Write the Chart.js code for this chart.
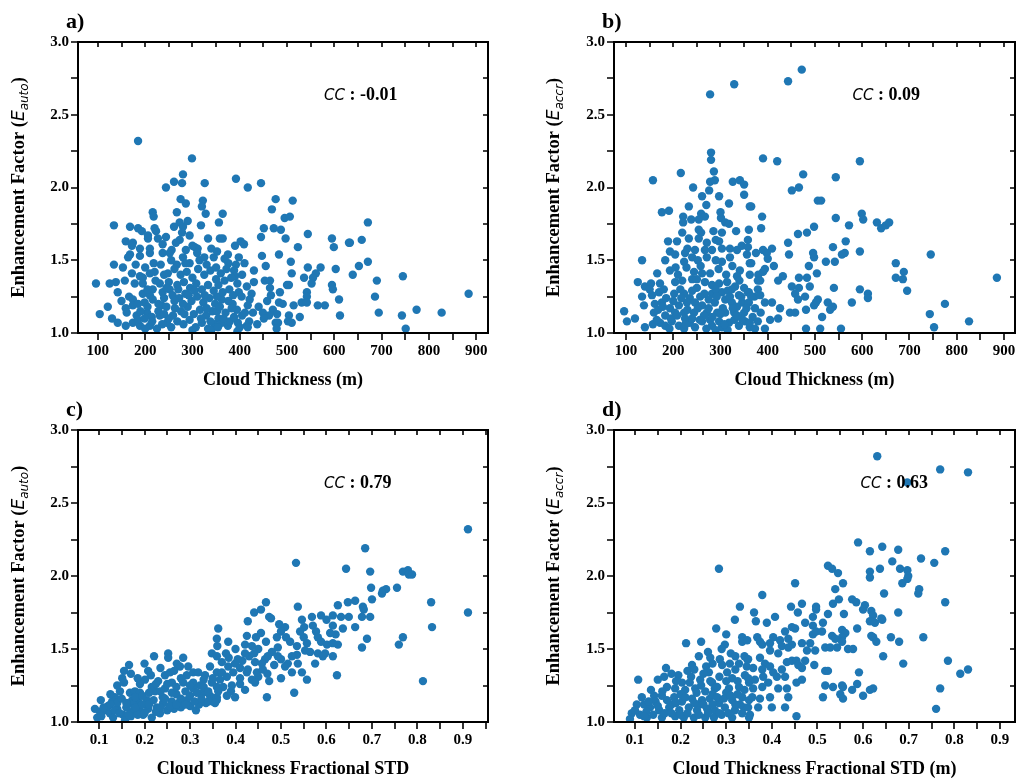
<!DOCTYPE html>
<html>
<head>
<meta charset="utf-8">
<script src="https://cdn.jsdelivr.net/npm/chart.js@4.4.1/dist/chart.umd.min.js"></script>
<style>
  html, body { margin: 0; padding: 0; background: #fff; }
  #wrap { position: relative; width: 1026px; height: 784px; }
  .panel { position: absolute; width: 513px; height: 392px; }
</style>
</head>
<body>
<div id="wrap">
  <div class="panel" style="left:0;top:0"><canvas id="pa" width="513" height="392"></canvas></div>
  <div class="panel" style="left:513px;top:0"><canvas id="pb" width="513" height="392"></canvas></div>
  <div class="panel" style="left:0;top:392px"><canvas id="pc" width="513" height="392"></canvas></div>
  <div class="panel" style="left:513px;top:392px"><canvas id="pd" width="513" height="392"></canvas></div>
</div>
<script>
// tick labels
const thicknessTicks = [100, 200, 300, 400, 500, 600, 700, 800, 900];
const stdTicks = [0.1, 0.2, 0.3, 0.4, 0.5, 0.6, 0.7, 0.8, 0.9];
const factorTicks = [1.0, 1.5, 2.0, 2.5, 3.0];

// correlation coefficients printed in each panel
const ccValues = ['-0.01', '0.09', '0.79', '0.63'];
const panelLetters = ['a)', 'b)', 'c)', 'd)'];

// [cloud thickness (m), E_auto]
const thicknessEauto = [
  [185,2.32],[299,2.20],[280,2.09],[261,2.04],[278,2.03],[244,2.00],[326,2.03],[275,1.92],[286,1.89],[322,1.91],
  [320,1.87],[328,1.82],[216,1.83],[218,1.80],[267,1.83],[273,1.76],[290,1.77],[134,1.74],[168,1.73],[185,1.72],
  [193,1.70],[220,1.72],[223,1.70],[261,1.73],[280,1.73],[318,1.74],[356,1.76],[278,1.69],[294,1.67],[206,1.67],
  [206,1.65],[227,1.65],[244,1.66],[159,1.63],[174,1.62],[172,1.60],[273,1.64],[333,1.65],[189,1.58],[210,1.58],
  [237,1.61],[256,1.57],[286,1.57],[305,1.59],[311,1.58],[168,1.54],[164,1.52],[189,1.53],[210,1.55],[237,1.55],
  [252,1.55],[280,1.52],[134,1.47],[153,1.45],[218,1.48],[233,1.47],[267,1.47],[294,1.48],[172,1.41],[189,1.39],
  [195,1.38],[210,1.41],[220,1.42],[248,1.41],[138,1.35],[157,1.36],[178,1.34],[195,1.34],[231,1.34],[96,1.34],
  [125,1.34],[142,1.28],[216,1.30],[237,1.28],[252,1.30],[195,1.27],[210,1.26],[166,1.25],[174,1.23],[121,1.18],
  [159,1.17],[174,1.19],[199,1.21],[216,1.23],[235,1.19],[104,1.13],[161,1.14],[182,1.12],[204,1.14],[214,1.11],
  [231,1.12],[142,1.07],[159,1.05],[174,1.07],[189,1.05],[210,1.05],[225,1.03],[246,1.07],[185,1.09],[199,1.10],
  [262,1.44],[275,1.40],[288,1.42],[300,1.38],[312,1.44],[325,1.40],[338,1.43],[350,1.37],[268,1.33],[282,1.35],
  [295,1.31],[308,1.34],[320,1.30],[333,1.33],[345,1.29],[258,1.26],[272,1.24],[285,1.27],[298,1.22],[310,1.25],
  [323,1.21],[336,1.24],[348,1.20],[263,1.17],[276,1.15],[290,1.18],[303,1.13],[316,1.16],[329,1.12],[342,1.15],
  [355,1.10],[268,1.08],[281,1.06],[294,1.09],[307,1.04],[320,1.07],[333,1.03],[346,1.06],[259,1.12],[245,1.18],
  [250,1.35],[240,1.24],[228,1.15],[205,1.18],[190,1.15],[250,1.10],[236,1.06],[300,1.02],[340,1.02],[315,1.50],
  [330,1.47],[345,1.52],[285,1.48],[240,1.40],[200,1.45],[180,1.47],[150,1.22],[130,1.10],[265,1.62],[300,1.60],
  [340,1.58],
  [200,1.03],[215,1.08],[228,1.20],[240,1.13],[255,1.04],[262,1.22],[270,1.30],[283,1.13],[292,1.26],[305,1.29],
  [318,1.10],[326,1.26],[338,1.08],[352,1.15],[362,1.23],[375,1.05],[385,1.20],[398,1.28],[405,1.12],[425,1.27],
  [437,1.06],[440,1.18],[458,1.22],[470,1.16],[485,1.28],[205,1.30],[222,1.36],[255,1.50],[310,1.55],[325,1.52],
  [376,1.48],[410,1.48],[430,1.43],[455,1.46],[420,1.08],[395,1.01],[330,1.17],[280,1.20],[245,1.31],[185,1.20],
  [392,2.06],[417,2.00],[445,2.03],[476,1.92],[512,1.91],[468,1.85],[495,1.79],[506,1.80],[451,1.72],[472,1.72],
  [487,1.71],[544,1.68],[595,1.65],[599,1.59],[631,1.62],[445,1.66],[497,1.65],[523,1.59],[364,1.82],[358,1.65],
  [364,1.65],[390,1.60],[402,1.63],[409,1.61],[352,1.56],[375,1.54],[398,1.52],[368,1.51],[447,1.53],[483,1.54],
  [508,1.49],[392,1.47],[388,1.43],[390,1.39],[544,1.45],[571,1.45],[561,1.41],[555,1.38],[552,1.34],[536,1.38],
  [603,1.44],[639,1.40],[510,1.41],[453,1.36],[464,1.36],[430,1.35],[500,1.33],[504,1.33],[464,1.31],[595,1.33],
  [597,1.30],[415,1.32],[542,1.28],[542,1.25],[466,1.26],[404,1.25],[421,1.23],[610,1.23],[483,1.21],[491,1.20],
  [514,1.19],[531,1.21],[542,1.21],[565,1.19],[580,1.19],[417,1.19],[394,1.16],[411,1.14],[428,1.14],[449,1.14],
  [462,1.12],[479,1.13],[504,1.12],[527,1.11],[612,1.12],[451,1.10],[502,1.08],[476,1.07],[481,1.07],[510,1.07],
  [362,1.07],[379,1.08],[396,1.07],[415,1.05],[417,1.04],[400,1.04],[478,1.03],
  [350,1.45],[360,1.41],[372,1.44],[382,1.38],[355,1.33],[368,1.36],[378,1.30],[352,1.25],[364,1.28],[376,1.22],
  [386,1.26],[358,1.18],[370,1.14],[383,1.17],[354,1.04],[366,1.10],[388,1.11],[395,1.34],[405,1.40],
  [633,1.62],[671,1.76],[658,1.64],[671,1.49],[652,1.46],[690,1.36],[745,1.39],[686,1.25],[694,1.14],[743,1.12],
  [774,1.16],[827,1.14],[751,1.03],[884,1.27]
];

// [cloud thickness (m), E_accr]
const thicknessEaccr = [
  [329,2.71],[278,2.64],[280,2.24],[280,2.19],[286,2.11],[216,2.10],[157,2.05],[278,2.04],[288,2.05],[276,1.98],
  [326,2.04],[341,2.05],[350,2.02],[350,1.95],[242,2.00],[261,1.94],[297,1.94],[318,1.89],[362,1.87],[233,1.87],
  [176,1.83],[191,1.84],[221,1.80],[259,1.82],[267,1.80],[238,1.78],[254,1.78],[301,1.79],[310,1.76],[318,1.75],
  [221,1.76],[254,1.71],[259,1.69],[219,1.69],[303,1.69],[333,1.70],[360,1.71],[233,1.65],[254,1.65],[189,1.63],
  [208,1.63],[271,1.62],[290,1.64],[297,1.63],[358,1.64],[246,1.57],[267,1.57],[282,1.57],[303,1.58],[320,1.58],
  [335,1.57],[356,1.54],[193,1.56],[204,1.54],[183,1.50],[223,1.49],[240,1.52],[252,1.50],[271,1.52],[303,1.49],
  [320,1.52],[134,1.50],[362,1.48],[193,1.43],[166,1.41],[244,1.42],[261,1.41],[278,1.41],[341,1.43],[335,1.39],
  [362,1.40],[125,1.35],[140,1.32],[153,1.34],[172,1.34],[204,1.35],[219,1.36],[240,1.37],[267,1.35],[282,1.33],
  [297,1.34],[314,1.35],[331,1.32],[350,1.31],[134,1.25],[155,1.26],[170,1.28],[202,1.27],[223,1.27],[235,1.24],
  [257,1.25],[282,1.27],[303,1.28],[324,1.30],[339,1.26],[360,1.28],[138,1.19],[161,1.20],[176,1.21],[193,1.17],
  [212,1.19],[229,1.21],[246,1.21],[261,1.19],[288,1.21],[310,1.23],[324,1.21],[346,1.21],[360,1.21],[96,1.15],
  [159,1.14],[183,1.12],[204,1.14],[223,1.14],[244,1.14],[271,1.14],[293,1.14],[310,1.14],[329,1.14],[350,1.14],
  [102,1.08],[119,1.10],[140,1.04],[157,1.06],[172,1.07],[183,1.05],[197,1.08],[212,1.05],[223,1.03],[235,1.07],
  [246,1.04],[261,1.08],[278,1.09],[282,1.05],[297,1.08],[303,1.04],[318,1.07],[329,1.09],[339,1.05],[352,1.08],
  [362,1.04],
  [215,1.30],[230,1.16],[250,1.31],[265,1.12],[275,1.23],[290,1.30],[305,1.17],[315,1.29],[335,1.18],[345,1.10],
  [195,1.10],[185,1.24],[168,1.16],[150,1.30],[225,1.10],[270,1.03],[290,1.02],[315,1.02],[240,1.29],[296,1.44],
  [312,1.40],[228,1.45],[210,1.40],[258,1.46],[325,1.46],[345,1.60],[230,1.58],[285,1.70],[270,1.88],[300,1.83],
  [180,1.30],
  [165,1.09],[178,1.18],[192,1.03],[200,1.22],[208,1.12],[217,1.24],[226,1.06],[240,1.10],[252,1.17],[256,1.09],
  [266,1.27],[275,1.17],[283,1.11],[292,1.25],[300,1.13],[308,1.06],[320,1.25],[326,1.17],[335,1.12],[344,1.25],
  [355,1.17],[368,1.11],[372,1.25],[385,1.14],[340,1.36],[380,1.40],[250,1.37],[225,1.55],[205,1.45],[290,1.50],
  [472,2.81],[443,2.73],[390,2.20],[420,2.18],[595,2.18],[475,2.09],[544,2.07],[451,1.98],[466,2.00],[506,1.91],
  [513,1.91],[365,1.87],[599,1.82],[602,1.78],[544,1.79],[388,1.80],[386,1.72],[498,1.73],[483,1.69],[464,1.68],
  [572,1.74],[443,1.62],[409,1.58],[390,1.57],[398,1.55],[375,1.55],[358,1.59],[445,1.54],[496,1.55],[498,1.52],
  [538,1.59],[565,1.63],[563,1.55],[557,1.54],[595,1.56],[400,1.51],[413,1.46],[365,1.48],[523,1.49],[542,1.49],
  [487,1.46],[390,1.42],[394,1.44],[432,1.39],[422,1.36],[379,1.36],[384,1.36],[466,1.38],[483,1.38],[504,1.41],
  [451,1.32],[466,1.31],[489,1.32],[540,1.31],[458,1.27],[358,1.28],[379,1.30],[365,1.25],[384,1.26],[595,1.30],
  [612,1.27],[612,1.24],[464,1.23],[479,1.25],[506,1.23],[502,1.21],[527,1.21],[538,1.18],[578,1.21],[394,1.21],
  [409,1.21],[426,1.17],[373,1.17],[447,1.14],[458,1.14],[481,1.16],[498,1.19],[532,1.16],[515,1.11],[422,1.10],
  [405,1.09],[379,1.08],[362,1.07],[394,1.03],[373,1.03],[481,1.03],[511,1.03],[555,1.03],
  [631,1.76],[640,1.72],[650,1.74],[657,1.76],[671,1.48],[671,1.38],[686,1.37],[688,1.42],[695,1.29],[745,1.54],
  [743,1.13],[775,1.20],[752,1.04],[826,1.08],[885,1.38]
];

// [cloud thickness fractional STD, E_auto]
const stdEauto = [
  [0.362,1.64],[0.359,1.57],[0.348,1.47],[0.252,1.47],[0.252,1.44],[0.221,1.45],[0.285,1.44],[0.271,1.40],[0.278,1.38],[0.166,1.39],
  [0.170,1.33],[0.151,1.30],[0.155,1.27],[0.208,1.35],[0.214,1.32],[0.201,1.29],[0.245,1.32],[0.256,1.34],[0.260,1.27],[0.245,1.23],
  [0.223,1.21],[0.216,1.24],[0.296,1.38],[0.293,1.32],[0.307,1.34],[0.318,1.34],[0.333,1.32],[0.344,1.38],[0.359,1.34],[0.307,1.27],
  [0.322,1.25],[0.348,1.27],[0.359,1.24],[0.307,1.23],[0.329,1.20],[0.344,1.18],[0.359,1.17],[0.313,1.08],[0.293,1.15],[0.278,1.14],
  [0.260,1.14],[0.241,1.13],[0.227,1.10],[0.208,1.09],[0.190,1.08],[0.173,1.07],[0.153,1.05],[0.197,1.05],[0.216,1.03],[0.234,1.06],
  [0.168,1.20],[0.179,1.21],[0.190,1.20],[0.173,1.15],[0.186,1.14],[0.205,1.15],[0.175,1.12],[0.146,1.21],[0.135,1.17],[0.129,1.14],
  [0.140,1.09],[0.104,1.15],[0.091,1.09],[0.102,1.07],[0.113,1.08],[0.124,1.06],[0.096,1.03],[0.131,1.03],[0.157,1.01],
  [0.170,1.04],[0.185,1.05],[0.200,1.06],[0.225,1.07],[0.250,1.08],[0.265,1.09],[0.280,1.10],[0.300,1.11],[0.320,1.12],[0.335,1.13],
  [0.350,1.14],[0.240,1.17],[0.270,1.19],[0.290,1.21],[0.190,1.26],[0.230,1.28],[0.280,1.30],[0.330,1.29],[0.120,1.11],[0.140,1.13],
  [0.160,1.10],[0.105,1.04],
  [0.110,1.10],[0.125,1.12],[0.135,1.08],[0.145,1.06],[0.150,1.16],[0.160,1.13],[0.165,1.05],[0.180,1.10],[0.180,1.17],[0.195,1.12],
  [0.195,1.18],[0.210,1.12],[0.210,1.20],[0.220,1.15],[0.225,1.26],[0.235,1.10],[0.235,1.21],[0.245,1.16],[0.250,1.26],[0.255,1.11],
  [0.260,1.20],[0.270,1.12],[0.270,1.24],[0.280,1.16],[0.285,1.27],[0.290,1.12],[0.300,1.18],[0.300,1.25],[0.310,1.14],[0.315,1.20],
  [0.325,1.16],[0.330,1.24],[0.340,1.14],[0.340,1.21],[0.350,1.30],[0.265,1.35],[0.235,1.37],[0.200,1.40],[0.185,1.30],[0.140,1.25],
  [0.125,1.19],[0.155,1.35],
  [0.370,1.34],[0.385,1.44],[0.400,1.50],[0.415,1.42],[0.430,1.45],[0.450,1.50],[0.465,1.43],[0.480,1.48],[0.500,1.43],[0.360,1.52],
  [0.390,1.21],[0.410,1.26],[0.450,1.31],[0.470,1.33],[0.500,1.30],[0.520,1.55],[0.550,1.58],[0.570,1.66],[0.600,1.70],[0.620,1.60],
  [0.533,2.09],[0.643,2.05],[0.467,1.82],[0.441,1.75],[0.456,1.77],[0.427,1.69],[0.474,1.72],[0.478,1.71],[0.537,1.79],[0.384,1.55],
  [0.425,1.59],[0.445,1.58],[0.456,1.61],[0.496,1.67],[0.509,1.65],[0.511,1.58],[0.500,1.62],[0.491,1.58],[0.546,1.70],[0.551,1.65],
  [0.542,1.62],[0.568,1.72],[0.588,1.73],[0.577,1.62],[0.581,1.58],[0.588,1.55],[0.557,1.54],[0.535,1.52],[0.553,1.49],[0.564,1.48],
  [0.601,1.53],[0.614,1.54],[0.625,1.53],[0.608,1.61],[0.614,1.66],[0.625,1.80],[0.614,1.73],[0.632,1.72],[0.647,1.82],[0.649,1.72],
  [0.636,1.64],[0.581,1.47],[0.597,1.47],[0.592,1.45],[0.614,1.45],[0.575,1.40],[0.623,1.32],[0.529,1.20],[0.469,1.17],[0.474,1.28],
  [0.546,1.34],[0.557,1.29],[0.537,1.40],[0.535,1.46],[0.524,1.45],[0.524,1.34],[0.515,1.40],[0.509,1.38],[0.493,1.51],[0.493,1.45],
  [0.485,1.39],[0.471,1.45],[0.458,1.40],[0.443,1.41],[0.427,1.36],[0.421,1.53],[0.421,1.47],[0.436,1.52],[0.441,1.47],[0.467,1.55],
  [0.379,1.47],[0.405,1.43],[0.399,1.40],[0.384,1.38],[0.370,1.41],[0.359,1.45],[0.410,1.37],[0.395,1.34],[0.425,1.34],[0.447,1.34],
  [0.460,1.36],[0.381,1.31],[0.410,1.30],[0.436,1.29],[0.366,1.29],[0.392,1.25],[0.421,1.22],[0.443,1.27],[0.373,1.24],[0.362,1.21],
  [0.381,1.18],[0.399,1.17],[0.359,1.15],[0.355,1.13],
  [0.911,2.32],[0.911,1.75],[0.830,1.82],[0.832,1.65],[0.812,1.28],[0.685,2.19],[0.696,2.03],[0.768,2.03],[0.779,2.04],[0.781,2.01],
  [0.788,2.01],[0.698,1.92],[0.724,1.90],[0.731,1.91],[0.722,1.88],[0.755,1.92],[0.700,1.84],[0.663,1.83],[0.680,1.79],[0.682,1.77],
  [0.678,1.72],[0.696,1.72],[0.663,1.65],[0.689,1.57],[0.678,1.51],[0.768,1.58],[0.759,1.53]
];

// [cloud thickness fractional STD, E_accr]
const stdEaccr = [
  [0.284,2.05],[0.330,1.79],[0.319,1.70],[0.278,1.64],[0.335,1.58],[0.335,1.55],[0.297,1.53],[0.245,1.55],[0.212,1.54],[0.260,1.48],
  [0.107,1.29],[0.150,1.29],[0.168,1.37],[0.164,1.31],[0.225,1.39],[0.256,1.38],[0.262,1.34],[0.286,1.43],[0.291,1.39],[0.308,1.40],
  [0.328,1.40],[0.346,1.43],[0.302,1.34],[0.313,1.30],[0.341,1.32],[0.203,1.27],[0.223,1.31],[0.243,1.29],[0.269,1.27],[0.188,1.23],
  [0.170,1.24],[0.210,1.22],[0.232,1.23],[0.254,1.21],[0.275,1.23],[0.306,1.23],[0.328,1.24],[0.350,1.27],[0.142,1.18],[0.159,1.18],
  [0.186,1.17],[0.203,1.14],[0.225,1.16],[0.247,1.15],[0.264,1.16],[0.284,1.13],[0.313,1.15],[0.335,1.17],[0.350,1.15],[0.104,1.12],
  [0.120,1.12],[0.133,1.10],[0.153,1.08],[0.175,1.10],[0.197,1.08],[0.218,1.10],[0.236,1.08],[0.258,1.09],[0.275,1.08],[0.297,1.10],
  [0.319,1.08],[0.339,1.10],[0.093,1.06],[0.111,1.05],[0.089,1.02],[0.126,1.03],[0.159,1.03],[0.188,1.04],[0.207,1.03],[0.229,1.03],
  [0.254,1.03],[0.273,1.03],[0.313,1.03],[0.350,1.03],
  [0.215,1.35],[0.235,1.20],[0.250,1.33],[0.270,1.19],[0.285,1.31],[0.300,1.20],[0.320,1.36],[0.330,1.12],[0.195,1.32],[0.180,1.12],
  [0.145,1.14],[0.125,1.07],[0.165,1.06],[0.240,1.12],[0.290,1.05],[0.340,1.45],[0.310,1.47],[0.265,1.44],[0.200,1.19],[0.115,1.17],
  [0.135,1.22],[0.280,1.17],[0.325,1.19],
  [0.100,1.08],[0.120,1.04],[0.130,1.14],[0.140,1.05],[0.150,1.11],[0.160,1.21],[0.170,1.15],[0.180,1.06],[0.190,1.13],[0.190,1.28],
  [0.200,1.05],[0.210,1.17],[0.215,1.06],[0.220,1.27],[0.230,1.13],[0.240,1.05],[0.245,1.25],[0.250,1.12],[0.260,1.06],[0.265,1.28],
  [0.270,1.12],[0.280,1.24],[0.285,1.06],[0.295,1.16],[0.300,1.28],[0.305,1.06],[0.310,1.18],[0.320,1.12],[0.325,1.28],[0.335,1.06],
  [0.340,1.22],[0.345,1.38],[0.320,1.45],[0.290,1.50],[0.270,1.40],[0.240,1.45],[0.230,1.36],[0.180,1.33],[0.300,1.60],
  [0.631,2.82],[0.589,2.23],[0.615,2.17],[0.642,2.20],[0.637,2.05],[0.615,2.03],[0.615,1.99],[0.523,2.07],[0.532,2.05],[0.545,2.02],
  [0.556,1.95],[0.539,1.91],[0.451,1.95],[0.379,1.87],[0.547,1.84],[0.534,1.81],[0.576,1.84],[0.585,1.82],[0.604,1.80],[0.600,1.77],
  [0.618,1.76],[0.622,1.73],[0.642,1.70],[0.615,1.69],[0.626,1.68],[0.646,1.88],[0.442,1.79],[0.466,1.81],[0.457,1.75],[0.497,1.79],
  [0.497,1.77],[0.490,1.72],[0.512,1.68],[0.523,1.74],[0.558,1.74],[0.361,1.75],[0.365,1.69],[0.389,1.68],[0.407,1.72],[0.473,1.68],
  [0.444,1.65],[0.451,1.64],[0.490,1.66],[0.490,1.60],[0.497,1.62],[0.510,1.62],[0.429,1.62],[0.532,1.59],[0.554,1.63],[0.561,1.61],
  [0.554,1.58],[0.587,1.64],[0.539,1.57],[0.554,1.55],[0.543,1.51],[0.567,1.50],[0.578,1.50],[0.618,1.59],[0.622,1.58],[0.629,1.55],
  [0.644,1.45],[0.368,1.58],[0.374,1.55],[0.379,1.53],[0.396,1.54],[0.403,1.58],[0.418,1.56],[0.422,1.52],[0.436,1.57],[0.444,1.53],
  [0.436,1.51],[0.466,1.54],[0.477,1.49],[0.484,1.54],[0.495,1.49],[0.517,1.51],[0.528,1.51],[0.346,1.56],[0.396,1.49],[0.414,1.47],
  [0.348,1.43],[0.374,1.44],[0.385,1.40],[0.359,1.37],[0.379,1.36],[0.396,1.38],[0.403,1.34],[0.422,1.36],[0.433,1.41],[0.444,1.42],
  [0.454,1.42],[0.458,1.39],[0.473,1.42],[0.466,1.37],[0.493,1.39],[0.517,1.35],[0.523,1.35],[0.591,1.34],[0.429,1.31],[0.454,1.27],
  [0.466,1.29],[0.517,1.25],[0.534,1.24],[0.554,1.25],[0.556,1.24],[0.587,1.26],[0.622,1.23],[0.615,1.22],[0.576,1.22],[0.550,1.19],
  [0.556,1.16],[0.600,1.18],[0.512,1.17],[0.348,1.30],[0.363,1.29],[0.381,1.31],[0.392,1.27],[0.411,1.31],[0.359,1.23],[0.379,1.24],
  [0.414,1.23],[0.433,1.23],[0.436,1.17],[0.357,1.17],[0.374,1.16],[0.396,1.17],[0.400,1.10],[0.429,1.10],[0.348,1.10],[0.370,1.10],
  [0.352,1.05],[0.454,1.04],
  [0.769,2.73],[0.830,2.71],[0.697,2.64],[0.677,2.18],[0.780,2.17],[0.664,2.10],[0.727,2.12],[0.756,2.09],[0.681,2.05],[0.697,2.04],
  [0.699,2.00],[0.697,1.98],[0.686,1.95],[0.723,1.91],[0.721,1.88],[0.780,1.82],[0.677,1.75],[0.640,1.71],[0.661,1.58],[0.679,1.55],
  [0.732,1.58],[0.688,1.40],[0.786,1.42],[0.813,1.33],[0.830,1.36],[0.769,1.23],[0.760,1.09]
];

const SERIF = '"Liberation Serif", "Times New Roman", serif';
const SANS = '"DejaVu Sans", sans-serif';
const DOT = '#1f77b4';

// in-between tick positions (half a label step)
function minorTicks(labels, min, max) {
  const step = (labels[1] - labels[0]) / 2;
  const out = [];
  for (let v = labels[0] - step * 4; v <= max + 1e-9; v += step) {
    if (v >= min - 1e-9) out.push(+v.toFixed(4));
  }
  return out;
}

// frame, tick marks, y title with subscript, CC note and panel letter
const panelDecor = {
  id: 'panelDecor',
  afterDraw(chart, args, o) {
    const { ctx, chartArea: a, scales: { x, y } } = chart;
    ctx.save();
    ctx.strokeStyle = '#000';
    ctx.lineWidth = 1.6;
    ctx.beginPath();
    for (const v of o.xMinor) {
      const px = Math.round(x.getPixelForValue(v));
      ctx.moveTo(px, a.bottom); ctx.lineTo(px, a.bottom + 7);
      ctx.moveTo(px, a.top); ctx.lineTo(px, a.top + 5);
    }
    for (const v of o.yMinor) {
      const py = Math.round(y.getPixelForValue(v));
      ctx.moveTo(a.left, py); ctx.lineTo(a.left - 7, py);
      ctx.moveTo(a.right, py); ctx.lineTo(a.right - 5, py);
    }
    ctx.stroke();
    ctx.lineWidth = 2;
    ctx.strokeRect(a.left, a.top, a.right - a.left, a.bottom - a.top);

    // y axis title, rotated, with italic E and subscript
    const parts = [
      { t: 'Enhancement Factor (', f: `bold 18.5px ${SERIF}`, dy: 0 },
      { t: 'E', f: `oblique 17px ${SANS}`, dy: 0 },
      { t: o.sub, f: `oblique 12px ${SANS}`, dy: 4 },
      { t: ')', f: `bold 18.5px ${SERIF}`, dy: 0 }
    ];
    let total = 0;
    for (const p of parts) { ctx.font = p.f; p.w = ctx.measureText(p.t).width; total += p.w; }
    ctx.save();
    ctx.translate(o.yTitleX, (a.top + a.bottom) / 2);
    ctx.rotate(-Math.PI / 2);
    ctx.fillStyle = '#000';
    ctx.textBaseline = 'alphabetic';
    let cx = -total / 2;
    for (const p of parts) {
      ctx.font = p.f;
      ctx.fillText(p.t, cx, 6 + p.dy);
      cx += p.w;
    }
    ctx.restore();

    // correlation note
    const nx = a.left + o.ccX * (a.right - a.left);
    const ny = a.top + 0.2 * (a.bottom - a.top);
    ctx.fillStyle = '#000';
    ctx.textBaseline = 'alphabetic';
    ctx.font = `oblique 15px ${SANS}`;
    ctx.fillText('CC', nx, ny);
    const w = ctx.measureText('CC').width;
    ctx.font = `bold 18px ${SERIF}`;
    ctx.fillText(' : ' + o.cc, nx + w, ny);

    // panel letter
    ctx.font = `bold 22px ${SERIF}`;
    ctx.fillText(o.letter, a.left - 12, a.top - 14);
    ctx.restore();
  }
};

function makePanel(id, cfg) {
  const tickFont = { family: SERIF, size: 15, weight: 'bold' };
  return new Chart(document.getElementById(id), {
    type: 'scatter',
    data: {
      datasets: [{
        data: cfg.points.map(p => ({ x: p[0], y: p[1] })),
        backgroundColor: DOT,
        borderWidth: 0,
        pointRadius: 4.2,
        pointHoverRadius: 4.2,
        clip: 0
      }]
    },
    options: {
      responsive: false,
      animation: false,
      events: [],
      layout: { padding: { top: cfg.top, right: cfg.right, left: 0, bottom: 0 } },
      plugins: {
        legend: { display: false },
        tooltip: { enabled: false },
        panelDecor: {
          xMinor: minorTicks(cfg.xTicks, cfg.xMin, cfg.xMax),
          yMinor: minorTicks(factorTicks, 1, 3),
          sub: cfg.sub,
          yTitleX: cfg.yTitleX,
          ccX: cfg.ccX,
          cc: cfg.cc,
          letter: cfg.letter
        }
      },
      scales: {
        x: {
          type: 'linear',
          min: cfg.xMin,
          max: cfg.xMax,
          grid: { display: false, drawTicks: false },
          border: { display: false },
          afterBuildTicks: s => { s.ticks = cfg.xTicks.map(v => ({ value: v })); },
          afterFit: s => { s.height = cfg.xHeight; },
          ticks: {
            color: '#000', font: tickFont, padding: 9, maxRotation: 0, autoSkip: false,
            callback: v => cfg.xFmt(v)
          },
          title: {
            display: true, text: cfg.xTitle, color: '#000',
            font: { family: SERIF, size: 18, weight: 'bold' },
            padding: { top: 0, bottom: cfg.titlePad }
          }
        },
        y: {
          type: 'linear',
          min: 1,
          max: 3,
          grid: { display: false, drawTicks: false },
          border: { display: false },
          afterBuildTicks: s => { s.ticks = factorTicks.map(v => ({ value: v })); },
          afterFit: s => { s.width = cfg.yWidth; },
          ticks: { color: '#000', font: tickFont, padding: 9, callback: v => v.toFixed(1) }
        }
      }
    },
    plugins: [panelDecor]
  });
}

makePanel('pa', {
  points: thicknessEauto, xTicks: thicknessTicks, xMin: 58, xMax: 925, xFmt: v => String(v),
  xTitle: 'Cloud Thickness (m)', sub: 'auto', cc: ccValues[0], letter: panelLetters[0],
  top: 42, right: 25, yWidth: 78, xHeight: 59, titlePad: 1, yTitleX: 18, ccX: 0.6
});
makePanel('pb', {
  points: thicknessEaccr, xTicks: thicknessTicks, xMin: 74.6, xMax: 923.3, xFmt: v => String(v),
  xTitle: 'Cloud Thickness (m)', sub: 'accr', cc: ccValues[1], letter: panelLetters[1],
  top: 42, right: 11, yWidth: 101, xHeight: 59, titlePad: 1, yTitleX: 40, ccX: 0.595
});
makePanel('pc', {
  points: stdEauto, xTicks: stdTicks, xMin: 0.0538, xMax: 0.955, xFmt: v => v.toFixed(1),
  xTitle: 'Cloud Thickness Fractional STD', sub: 'auto', cc: ccValues[2], letter: panelLetters[2],
  top: 38, right: 25, yWidth: 78, xHeight: 62, titlePad: 4, yTitleX: 18, ccX: 0.6
});
makePanel('pd', {
  points: stdEaccr, xTicks: stdTicks, xMin: 0.054, xMax: 0.933, xFmt: v => v.toFixed(1),
  xTitle: 'Cloud Thickness Fractional STD (m)', sub: 'accr', cc: ccValues[3], letter: panelLetters[3],
  top: 38, right: 11, yWidth: 101, xHeight: 62, titlePad: 4, yTitleX: 40, ccX: 0.615
});
</script>
</body>
</html>
